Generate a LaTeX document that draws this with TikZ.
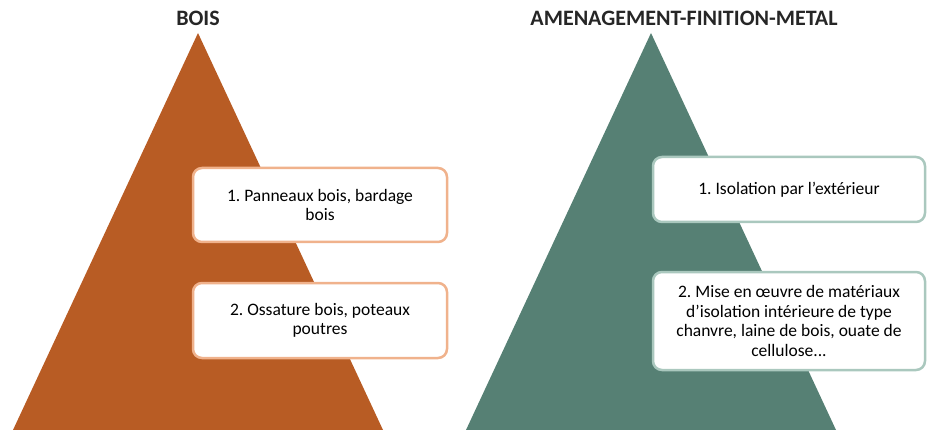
\documentclass[tikz,border=0pt]{standalone}
\usepackage{fontspec}
\setmainfont{Carlito}
\definecolor{rust}{RGB}{184,92,36}
\definecolor{rustlight}{RGB}{240,178,140}
\definecolor{sage}{RGB}{86,128,116}
\definecolor{sagelight}{RGB}{170,200,190}
\newcommand\myboxfont{\frenchspacing\hyphenpenalty10000\exhyphenpenalty10000\fontsize{17.5}{19.5}\selectfont}
\tikzset{
  title/.style={font=\bfseries\fontsize{22}{25}\selectfont, text=black!85},
  itembox/.style={draw, line width=2.5pt, fill=white, rounded corners=9pt, align=flush center,
    font=\myboxfont, inner sep=0pt},
  leftbox/.style={itembox, draw=rustlight, minimum width=254pt, text width=208pt},
  rightbox/.style={itembox, draw=sagelight, minimum width=272pt, text width=252pt},
}
\begin{document}
\begin{tikzpicture}[x=1pt,y=-1pt]
\useasboundingbox (0,0) rectangle (928,430);
% triangles
\fill[rust] (198,33) -- (383,430) -- (13,430) -- cycle;
\fill[sage] (651,33) -- (836,430) -- (466,430) -- cycle;
% titles
\node[title] (t1) at (198,18) {BOIS};
\node[title] (t2) at (684,18) {AMENAGEMENT-FINITION-METAL};
% left boxes
\node[leftbox, minimum height=74pt] (l1) at (320,205) {1. Panneaux bois, bardage bois};
\node[leftbox, minimum height=75pt] (l2) at (320,320.5) {2. Ossature bois, poteaux poutres};
% right boxes
\node[rightbox, minimum height=65pt] (r1) at (789,189.5) {1. Isolation par l'extérieur};
\node[rightbox, minimum height=98pt] (r2) at (789,321) {2. Mise en œuvre de matériaux d'isolation intérieure de type chanvre, laine de bois, ouate de cellulose...};
\end{tikzpicture}
\end{document}
